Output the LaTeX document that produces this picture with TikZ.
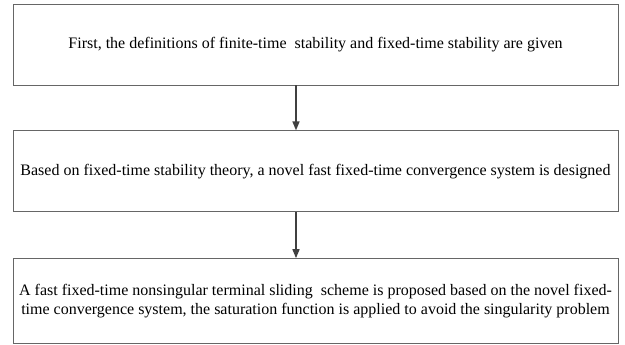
\documentclass[tikz,border=0pt]{standalone}
\usepackage{fontspec}
\setmainfont{Liberation Serif}
\usetikzlibrary{positioning,arrows.meta}

\tikzset{
  paso/.style={draw=black!60, line width=0.8pt, minimum width=605pt,
    minimum height=81pt, align=center, inner sep=0pt,
    font=\fontsize{16}{19}\selectfont},
  flecha/.style={-{Triangle[length=9pt,width=7pt]}, line width=1.5pt, draw=black!75}
}

\begin{document}
\begin{tikzpicture}[x=1pt,y=1pt]
    % Marco de la figura
    \useasboundingbox (0,0) rectangle (625,345);

    % Cajas del diagrama
    \node[paso] (def) at (315.5,300.5)
        {First, the definitions of finite-time\ \ stability and fixed-time stability are given};
    \node[paso, below=45pt of def] (sist)
        {Based on fixed-time stability theory, a novel fast fixed-time convergence system is designed};
    \node[paso, below=46pt of sist, minimum height=85pt] (esq)
        {A fast fixed-time nonsingular terminal sliding\ \ scheme is proposed based on the novel fixed-\\
         time convergence system, the saturation function is applied to avoid the singularity problem};

    % Flechas entre las cajas
    \coordinate (eje) at (296,0);
    \draw[flecha] (def.south -| eje) -- (sist.north -| eje);
    \draw[flecha] (sist.south -| eje) -- (esq.north -| eje);
\end{tikzpicture}
\end{document}
